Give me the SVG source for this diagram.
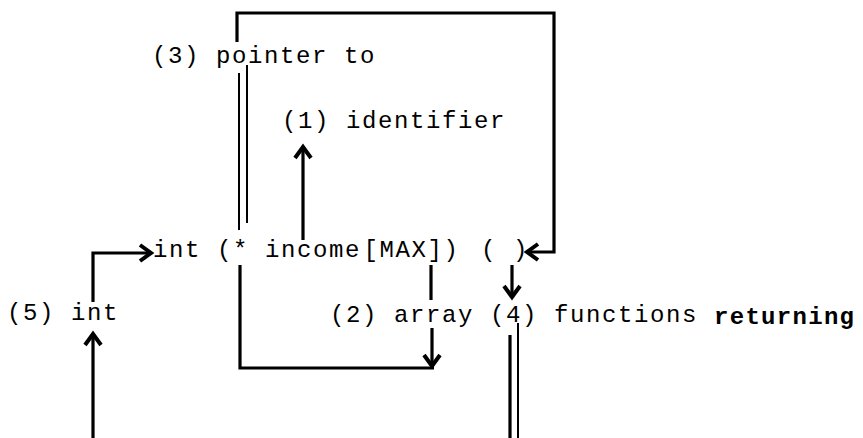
<svg xmlns="http://www.w3.org/2000/svg" width="863" height="438" viewBox="0 0 863 438">
<style>
.t{font-family:"Liberation Mono","Courier New",monospace;font-size:24px;letter-spacing:1.6px;fill:#000}
.b{font-family:"Liberation Mono","Courier New",monospace;font-size:24px;font-weight:bold;letter-spacing:1.3px;fill:#000}
.sp{font-size:4px;letter-spacing:0}
.c{fill:none;stroke:#000;stroke-width:3.2;stroke-linejoin:miter}
.d{fill:none;stroke:#000;stroke-width:2}
.a{marker-end:url(#ah)}
</style>
<defs>
<marker id="ah" markerUnits="userSpaceOnUse" viewBox="-16 -12 20 24" refX="0" refY="0" markerWidth="20" markerHeight="24" orient="auto" overflow="visible">
<path d="M-11,-8 L0,0 L-11,8" fill="none" stroke="#000" stroke-width="4"/>
</marker>
</defs>
<rect width="863" height="438" fill="#fff"/>
<g id="connectors">
<path class="c a" d="M237,42 V13 H554 V252 H527"/>
<path class="d" d="M239,73 V230"/>
<path class="d" d="M247,65 V223"/>
<path class="c" d="M240,265 V368 H434"/>
<path class="c" d="M431,265 V300"/>
<path class="c a" d="M432,328 V366"/>
<path class="c a" d="M303,240 V147"/>
<path class="c a" d="M512,265 V297"/>
<path class="c" d="M510,335 V438"/>
<path class="d" d="M518,323 V438"/>
<path class="c a" d="M93,438 V334"/>
<path class="c a" d="M93,302 V253 H151"/>
</g>
<g id="n3"><text class="t" x="152" y="63">(3) pointer to</text></g>
<g id="n1"><text class="t" x="282" y="128">(1) identifier</text></g>
<g id="decl"><text class="t" x="153" y="257">int (* income<tspan class="sp"> </tspan>[MAX]) <tspan x="481">( )</tspan></text></g>
<g id="n5"><text class="t" x="7" y="320">(5) int</text></g>
<g id="n2"><text class="t" x="330" y="322">(2) array (4) functions</text></g>
<g id="ret"><text class="b" x="714" y="324">returning</text></g>
</svg>
